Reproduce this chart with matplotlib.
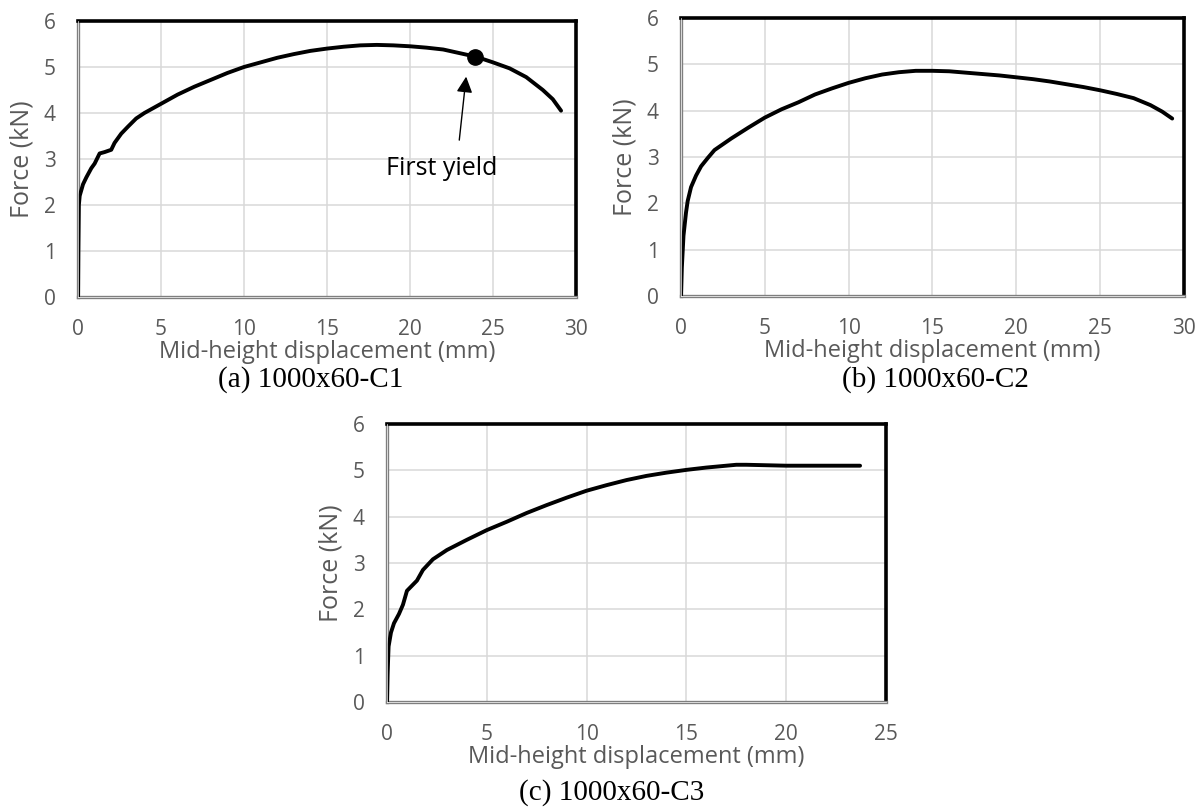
import matplotlib
matplotlib.use("Agg")
import matplotlib.pyplot as plt

# data (displacement mm, force kN)
disp_c1 = [0, 0.02, 0.05, 0.1, 0.3, 0.5, 0.8, 1.0, 1.3, 1.6, 2.0, 2.2, 2.6, 3.0, 3.5, 4.0,
           5.0, 6.0, 7.0, 8.0, 9.0, 10, 11, 12, 13, 14, 15, 16, 17, 18, 19, 20, 21, 22,
           23, 24, 25, 26, 27, 28, 28.6, 29.1]
force_c1 = [0, 1.0, 2.0, 2.2, 2.45, 2.6, 2.8, 2.9, 3.12, 3.15, 3.2, 3.35, 3.55, 3.7, 3.88, 4.0,
            4.2, 4.4, 4.57, 4.72, 4.87, 5.0, 5.1, 5.2, 5.28, 5.35, 5.4, 5.44, 5.47, 5.48, 5.47,
            5.45, 5.42, 5.38, 5.3, 5.22, 5.1, 4.97, 4.78, 4.5, 4.3, 4.05]

disp_c2 = [0, 0.05, 0.15, 0.3, 0.4, 0.6, 0.9, 1.2, 1.6, 2.0, 3.0, 4.0, 5.0, 6.0, 7.0, 8.0,
           9.0, 10, 11, 12, 13, 14, 15, 16, 17, 18, 19, 20, 21, 22, 23, 24, 25, 26, 27, 28,
           28.7, 29.3]
force_c2 = [0, 0.6, 1.3, 1.8, 2.05, 2.35, 2.6, 2.8, 2.98, 3.15, 3.4, 3.63, 3.85, 4.03, 4.18,
            4.35, 4.48, 4.6, 4.7, 4.78, 4.83, 4.86, 4.86, 4.85, 4.82, 4.79, 4.76, 4.72, 4.68,
            4.63, 4.57, 4.51, 4.44, 4.36, 4.27, 4.12, 3.98, 3.83]

disp_c3 = [0, 0.03, 0.08, 0.2, 0.35, 0.6, 0.8, 1.0, 1.5, 1.8, 2.3, 3.0, 4.0, 5.0, 6.0, 7.0,
           8.0, 9.0, 10, 11, 12, 13, 14, 15, 16, 17, 17.5, 18, 19, 20, 21, 22, 23.7]
force_c3 = [0, 0.6, 1.2, 1.5, 1.7, 1.9, 2.1, 2.4, 2.62, 2.85, 3.08, 3.28, 3.5, 3.71, 3.89, 4.08,
            4.25, 4.41, 4.56, 4.68, 4.79, 4.88, 4.95, 5.01, 5.06, 5.1, 5.12, 5.12, 5.11, 5.1,
            5.1, 5.1, 5.1]

yield_pt = (23.9, 5.22)
captions = ["(a) 1000x60-C1", "(b) 1000x60-C2", "(c) 1000x60-C3"]
xmax = [30, 30, 25]

grey = "#595959"
sans = "Open Sans"
serif = "Liberation Serif"

fig = plt.figure(figsize=(11.97, 8.07), dpi=100)

boxes = [[0.0652, 0.6320, 0.4160, 0.3420],
         [0.5689, 0.6332, 0.4202, 0.3445],
         [0.3233, 0.1301, 0.4169, 0.3445]]
cap_pos = [(311 / 1197, 1 - 380 / 807), (935 / 1197, 1 - 380 / 807), (612 / 1197, 1 - 793 / 807)]
series = [(disp_c1, force_c1), (disp_c2, force_c2), (disp_c3, force_c3)]

for i in range(3):
    ax = fig.add_axes(boxes[i])
    x, y = series[i]
    ax.plot(x, y, color="black", lw=2.8, solid_capstyle="round", zorder=3)
    ax.set_xlim(0, xmax[i])
    ax.set_ylim(0, 6)
    ax.set_xticks(range(0, xmax[i] + 1, 5))
    ax.set_yticks(range(0, 7))
    ax.grid(True, color="#d9d9d9", lw=1.1)
    ax.set_axisbelow(True)
    ax.tick_params(length=0, labelsize=15, colors=grey, pad=16)
    for lab in ax.get_xticklabels() + ax.get_yticklabels():
        lab.set_fontfamily(sans)
    ax.set_xlabel("Mid-height displacement (mm)", fontsize=17, color=grey,
                  family=sans, labelpad=0)
    ax.set_ylabel("Force (kN)", fontsize=18, color=grey, family=sans, labelpad=7)
    for s in ["top", "right"]:
        ax.spines[s].set_color("black")
        ax.spines[s].set_linewidth(2.6)
    for s in ["left", "bottom"]:
        ax.spines[s].set_color("#7f7f7f")
        ax.spines[s].set_linewidth(2.4)
    # thin light core so left/bottom look like a double rule
    ax.plot([0, 0], [0, 1], transform=ax.transAxes, color="white", lw=0.5,
            clip_on=False, zorder=4)
    ax.plot([0, 1], [0, 0], transform=ax.transAxes, color="white", lw=0.5,
            clip_on=False, zorder=4)
    fig.text(cap_pos[i][0], cap_pos[i][1], captions[i], fontsize=21,
             family=serif, ha="center", va="center")

    if i == 0:
        ax.plot(yield_pt[0], yield_pt[1], "o", color="black", ms=11, zorder=5)
        ax.annotate("", xy=(23.4, 4.85), xytext=(22.95, 3.35),
                    arrowprops=dict(arrowstyle="-|>", color="black", lw=1.0,
                                    mutation_scale=24))
        ax.text(21.9, 2.8, "First yield", fontsize=18, family=sans,
                ha="center", va="center", color="black")

fig.savefig("out.png", dpi=100)
